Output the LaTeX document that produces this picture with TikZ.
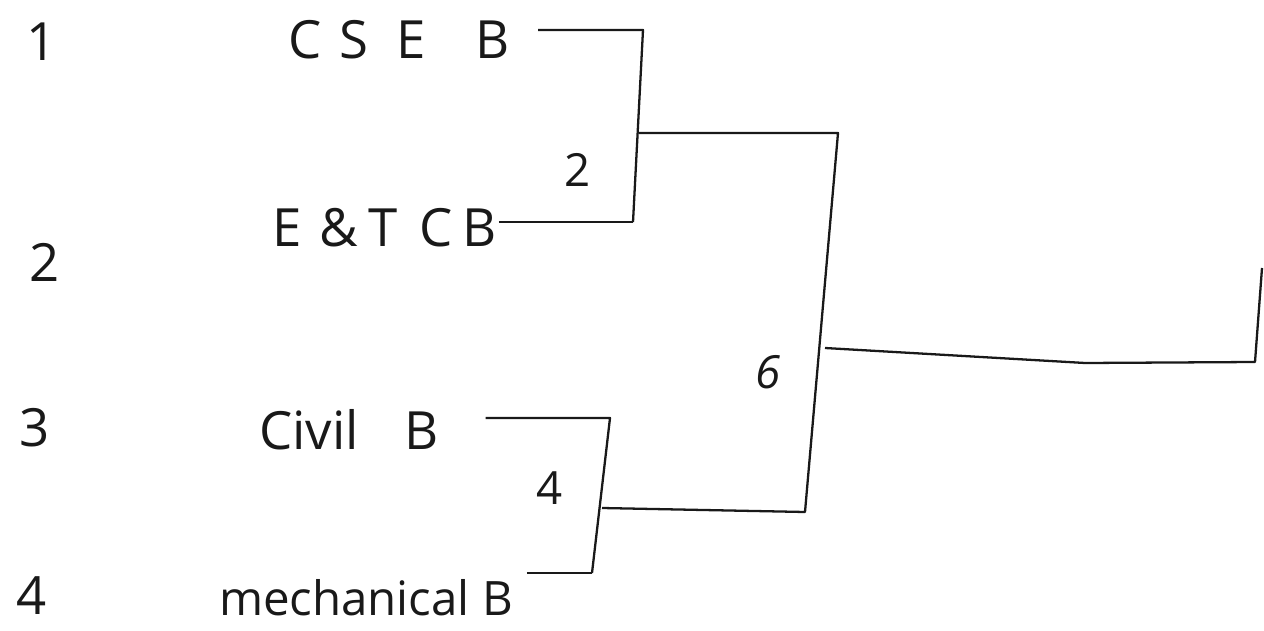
\documentclass[tikz,border=0pt]{standalone}
\usepackage{fontspec}
\setsansfont{Open Sans}
\usepackage{tikz}
\usetikzlibrary{positioning, calc}
\definecolor{inkdark}{RGB}{25,25,25}
\tikzset{
  team/.style={font=\sffamily\fontsize{30}{34}\selectfont, text=inkdark, inner sep=2pt},
  seed/.style={font=\sffamily\fontsize{30}{34}\selectfont, text=inkdark, inner sep=0pt},
  score/.style={font=\sffamily\fontsize{26}{30}\selectfont, text=inkdark, inner sep=0pt},
  wire/.style={line width=1.3pt, color=inkdark, line join=round}
}

\begin{document}
\begin{tikzpicture}[x=0.02cm, y=-0.02cm]
  \useasboundingbox (0,0) rectangle (1264,631);

  % seeds
  \node[seed] (s1) at (42,42) {1};
  \node[seed] (s2) at (45,262) {2};
  \node[seed] (s3) at (35,428) {3};
  \node[seed] (s4) at (32,596) {4};

  % teams
  \node[team] (cse) at (399,40) {C\hspace{10pt}S\hspace{16pt}E\hspace{28pt}B};
  \node[team] (entc) at (385,228) {E\hspace{10pt}\&\hspace{6pt}T\hspace{12pt}C\hspace{6pt}B};
  \node[team] (civil) at (349,430) {Civil\hspace{26pt}B};
  \node[team, font=\sffamily\fontsize{27}{34}\selectfont] (mech) at (366,598) {mechanical B};

  % bracket joints
  \coordinate (a1) at (643,30);
  \coordinate (a2) at (633,222);
  \coordinate (am) at (639,133);
  \coordinate (b1) at (610,418);
  \coordinate (b2) at (592,573);
  \coordinate (bm) at (602,508);
  \coordinate (c1) at (838,133);
  \coordinate (c2) at (805,512);
  \coordinate (cm) at (825,348);
  \coordinate (fin) at (1255,362);
  \coordinate (fintop) at (1262,268);

  % round scores
  \node[score] (r1) at (578,170) {2};
  \node[score] (r2) at (550,488) {4};
  \node[score, font=\sffamily\itshape\fontsize{26}{30}\selectfont] (r3) at (768,372) {6};

  % round 1
  \draw[wire] (cse.east) ++(25,-10) coordinate (cseend) -- (a1) -- (a2);
  \draw[wire] (entc.east) ++(-2,-6) coordinate (entcend) -- (a2);
  \draw[wire] (civil.east) ++(43,-12) coordinate (civilend) -- (b1) -- (b2);
  \draw[wire] (mech.east) ++(10,-25) coordinate (mechend) -- (b2);

  % round 2
  \draw[wire] (am) -- (c1) -- (c2) -- (bm);

  % final
  \draw[wire] (cm) -- (1085,363) -- (fin) -- (fintop);
\end{tikzpicture}
\end{document}
